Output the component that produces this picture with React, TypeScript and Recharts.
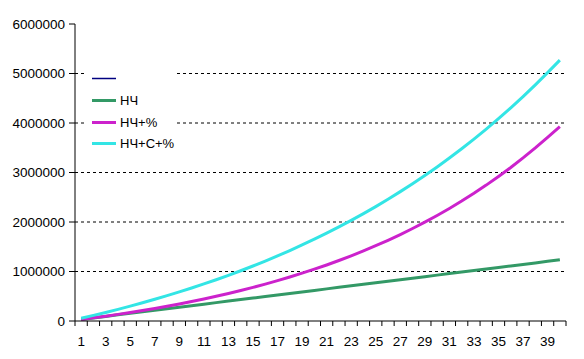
import { CartesianGrid, Legend, Line, LineChart, XAxis, YAxis } from 'recharts';

const years = [
  1, 2, 3, 4, 5, 6, 7, 8, 9, 10, 11, 12, 13, 14, 15, 16, 17, 18, 19, 20,
  21, 22, 23, 24, 25, 26, 27, 28, 29, 30, 31, 32, 33, 34, 35, 36, 37, 38, 39, 40,
];

// НЧ
const base = [
  31000, 62000, 93000, 124000, 155000, 185000, 216000, 247000, 278000, 309000,
  340000, 371000, 402000, 433000, 464000, 494000, 525000, 556000, 587000, 618000,
  649000, 680000, 711000, 742000, 773000, 803000, 834000, 865000, 896000, 927000,
  958000, 989000, 1020000, 1051000, 1082000, 1112000, 1143000, 1174000, 1205000, 1236000,
];

// НЧ+%
const withPct = [
  31000, 63600, 97900, 134000, 172000, 212000, 254000, 298000, 345000, 394000,
  445000, 499000, 556000, 616000, 679000, 745000, 815000, 889000, 966000, 1047000,
  1132000, 1222000, 1317000, 1416000, 1521000, 1631000, 1747000, 1869000, 1997000, 2132000,
  2274000, 2423000, 2580000, 2745000, 2919000, 3101000, 3294000, 3496000, 3709000, 3925000,
];

// НЧ+С+%
const withAll = [
  55500, 113200, 173200, 235700, 300600, 368100, 438400, 511400, 587300, 666300,
  748500, 833900, 922800, 1015200, 1111300, 1211300, 1315200, 1423300, 1535700, 1652700,
  1774300, 1900800, 2032300, 2169100, 2311300, 2459300, 2613200, 2773200, 2939600, 3112700,
  3292700, 3479900, 3674600, 3877100, 4087700, 4306700, 4534500, 4771400, 5017700, 5270000,
];

const yTicks = [0, 1000000, 2000000, 3000000, 4000000, 5000000, 6000000];
const xLabels = [1, 3, 5, 7, 9, 11, 13, 15, 17, 19, 21, 23, 25, 27, 29, 31, 33, 35, 37, 39];

const series = [
  { key: 'base', name: 'НЧ', color: '#339966' },
  { key: 'withPct', name: 'НЧ+%', color: '#cc22cc' },
  { key: 'withAll', name: 'НЧ+С+%', color: '#33e5e5' },
];

const data = years.map((year, i) => ({
  year,
  base: base[i],
  withPct: withPct[i],
  withAll: withAll[i],
}));

const W = 584;
const H = 359;
const Y_W = 75;
const M_RIGHT = 18;
const FONT = '"Liberation Sans", Arial, sans-serif';
const half = (W - Y_W - M_RIGHT) / (years.length * 2);

function YearTick(props: any) {
  const { x, y, payload, index } = props;
  const last = index === years.length - 1;
  return (
    <g>
      <line x1={x - half} x2={x - half} y1={y} y2={y + 5} stroke="#000" />
      {last && <line x1={x + half} x2={x + half} y1={y} y2={y + 5} stroke="#000" />}
      {xLabels.includes(payload.value) && (
        <text x={x} y={y + 25} textAnchor="middle" fontSize={13.5} fontFamily={FONT} fill="#000">
          {payload.value}
        </text>
      )}
    </g>
  );
}

function LegendBox() {
  const rows = [{ name: '', color: '#000080', w: 1.5 }, ...series.map((s) => ({ ...s, w: 3 }))];
  return (
    <div style={{ background: '#fff', width: 92, padding: '0', fontFamily: FONT, fontSize: 13 }}>
      {rows.map((r, i) => (
        <div key={i} style={{ height: 21.7, display: 'flex', alignItems: 'center' }}>
          <svg width={36} height={21} style={{ flex: 'none' }}>
            <line x1={8} x2={32} y1={10.5} y2={10.5} stroke={r.color} strokeWidth={r.w} />
          </svg>
          <span style={{ color: '#000' }}>{r.name}</span>
        </div>
      ))}
    </div>
  );
}

export default function App() {
  return (
    <div style={{ position: 'absolute', left: 0, top: 0, width: W, height: H, background: '#fff' }}>
      <LineChart width={W} height={H} data={data} margin={{ top: 24, right: M_RIGHT, bottom: 0, left: 0 }}>
        <CartesianGrid
          vertical={false}
          stroke="#000"
          strokeDasharray="3 3"
          horizontalValues={yTicks.slice(1, -1)}
        />
        <XAxis
          dataKey="year"
          type="number"
          domain={[0.5, 40.5]}
          ticks={years}
          interval={0}
          height={38}
          tickLine={false}
          tickSize={0}
          tickMargin={0}
          axisLine={{ stroke: '#000' }}
          tick={<YearTick />}
        />
        <YAxis
          type="number"
          domain={[0, 6000000]}
          ticks={yTicks}
          interval={0}
          width={Y_W}
          tickSize={6}
          tickMargin={4}
          axisLine={{ stroke: '#000' }}
          tickLine={{ stroke: '#000' }}
          tick={{ fill: '#000', fontSize: 13.5, fontFamily: FONT }}
          tickFormatter={(v) => String(v)}
        />
        <Legend
          layout="vertical"
          align="center"
          verticalAlign="middle"
          content={<LegendBox />}
          wrapperStyle={{ left: 84, top: 68, width: 92 }}
        />
        {series.map((s) => (
          <Line
            key={s.key}
            type="linear"
            dataKey={s.key}
            name={s.name}
            stroke={s.color}
            strokeWidth={3}
            dot={false}
            isAnimationActive={false}
          />
        ))}
      </LineChart>
    </div>
  );
}
